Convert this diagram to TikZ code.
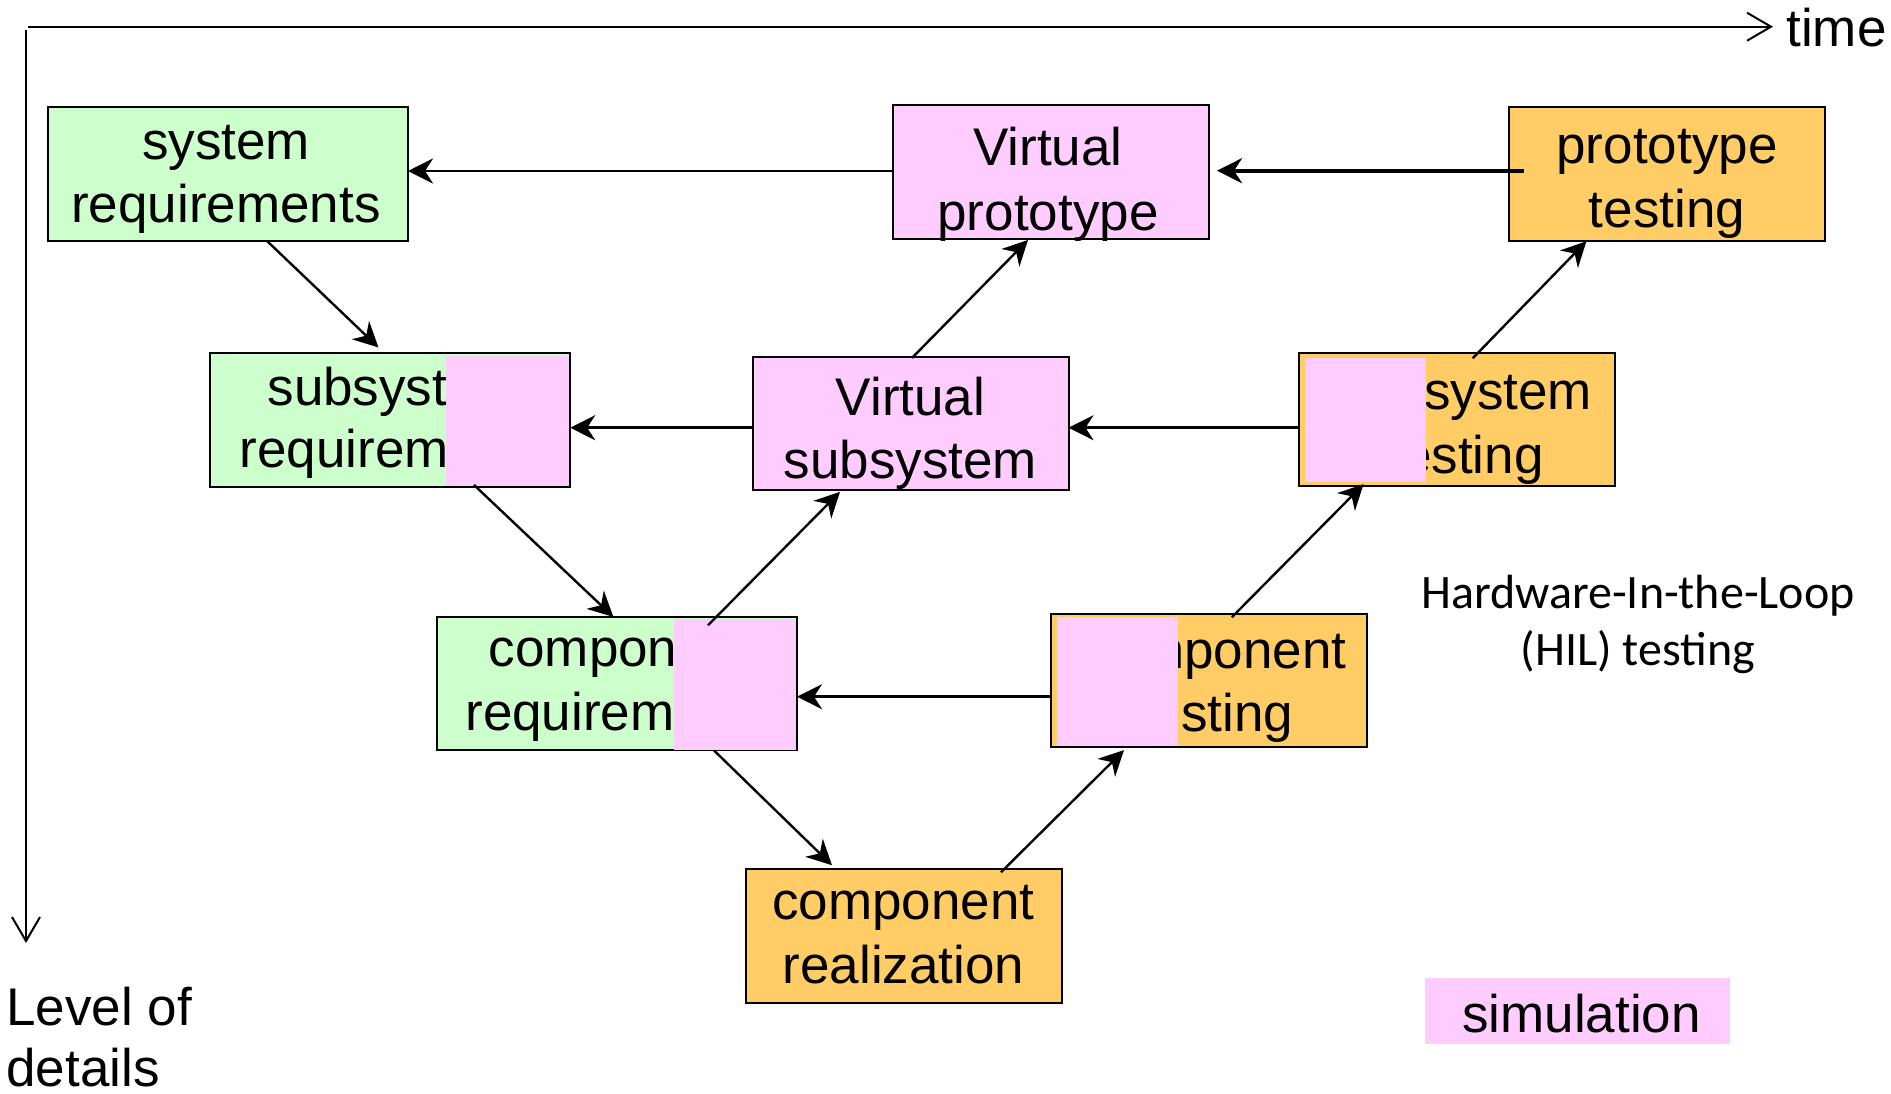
\documentclass[tikz,border=0pt]{standalone}
\usepackage{fontspec}
\setmainfont{Liberation Sans}
\newfontfamily\hilfont{Carlito}
\usetikzlibrary{arrows.meta,calc}

\definecolor{reqgreen}{RGB}{204,255,204}
\definecolor{simpink}{RGB}{255,204,255}
\definecolor{testorange}{RGB}{255,204,102}

\begin{document}
\begin{tikzpicture}[x=0.5pt,y=-0.5pt,
  boxbase/.style={draw=black, line width=1pt, minimum height=66.75pt, inner sep=0pt, outer sep=0pt},
  reqbox/.style={boxbase, fill=reqgreen, minimum width=180pt},
  simbox/.style={boxbase, fill=simpink, minimum width=158pt},
  testbox/.style={boxbase, fill=testorange, minimum width=158pt},
  txt/.style={font=\fontsize{26.5pt}{31.8pt}\selectfont, inner sep=0pt, anchor=base},
  hil/.style={font=\hilfont\fontsize{24pt}{28pt}\selectfont, inner sep=0pt, anchor=base},
  axis/.style={line width=1pt, -{Straight Barb[length=12pt,width=14pt]}},
  conn/.style={line width=1.2pt, -{Stealth[length=12.5pt,width=12.5pt,inset=4pt]}}
]
\useasboundingbox[fill=white] (0,0) rectangle (1891,1093);

% axes
\coordinate (tstart) at (28,26.7);
\coordinate (tend) at (1773,26.7);
\coordinate (lstart) at (26,30);
\coordinate (lend) at (26,943);
\draw[axis] (tstart) -- (tend);
\draw[axis] (lstart) -- (lend);
\node[txt, anchor=base west] (timelbl) at (1786,46.7) {time};
\node[txt, anchor=base west] (lvlA) at (6,1025) {Level of};
\node[txt, anchor=base west] (lvlB) at (6,1086) {details};

% boxes
\node[reqbox]  (sysreq)   at (228,174.2)   {};
\node[simbox]  (vproto)   at (1051,172.2)  {};
\node[testbox] (ptest)    at (1667,173.9)  {};
\node[reqbox]  (subreq)   at (390.2,420.2) {};
\node[simbox]  (vsub)     at (910.5,423.4) {};
\node[testbox] (subtest)  at (1457.4,419.4){};
\node[reqbox]  (compreq)  at (617,683.7)   {};
\node[testbox] (comptest) at (1209.3,680.4){};
\node[testbox] (comprea)  at (903.5,936)   {};

% box texts, placed by baseline below the top edge
\node[txt] (sysreqA)   at ($(sysreq.north)+(-2,51.6)$)   {system};
\node[txt] (sysreqB)   at ($(sysreq.north)+(-2,115)$)    {requirements};
\node[txt] (vprotoA)   at ($(vproto.north)+(-3,59.7)$)   {Virtual};
\node[txt] (vprotoB)   at ($(vproto.north)+(-3,124.7)$)  {prototype};
\node[txt] (ptestA)    at ($(ptest.north)+(0,56)$)       {prototype};
\node[txt] (ptestB)    at ($(ptest.north)+(0,120.7)$)    {testing};
\node[txt] (subreqA)   at ($(subreq.north)+(4,51.7)$)    {subsystem};
\node[txt] (subreqB)   at ($(subreq.north)+(4,114)$)     {requirements};
\node[txt] (vsubA)     at ($(vsub.north)+(0,59.3)$)      {Virtual};
\node[txt] (vsubB)     at ($(vsub.north)+(0,121.6)$)     {subsystem};
\node[txt] (subtestA)  at ($(subtest.north)+(8,57.3)$)   {subsystem};
\node[txt] (subtestB)  at ($(subtest.north)+(8,120.6)$)  {testing};
\node[txt] (compreqA)  at ($(compreq.north)+(3,50)$)     {component};
\node[txt] (compreqB)  at ($(compreq.north)+(3,113.3)$)  {requirements};
\node[txt] (comptestA) at ($(comptest.north)+(6,54.6)$)  {component};
\node[txt] (comptestB) at ($(comptest.north)+(6,118)$)   {testing};
\node[txt] (compreaA)  at ($(comprea.north)+(0,50.7)$)   {component};
\node[txt] (compreaB)  at ($(comprea.north)+(0,114.7)$)  {realization};

% simulation patches laid over the requirement and test boxes
\fill[simpink] (446,356) rectangle (569,486);
\fill[simpink] (673.7,619) rectangle (796,749.7);
\fill[simpink] (1305,357.7) rectangle (1426,482.3);
\fill[simpink] (1056.8,617.3) rectangle (1177.8,746);

% horizontal connectors (right to left)
\coordinate (a1) at ($(vproto.west)+(0,-1.2)$);
\draw[conn, line width=1.3pt] (a1) -- (a1 -| sysreq.east);
\coordinate (b1) at ($(ptest.west)+(15,-3.2)$);
\coordinate (b0) at (b1 -| vproto.east);
\coordinate (b2) at ($(b0)+(8,0)$);
\draw[conn, line width=2pt] (b1) -- (b2);
\coordinate (c1) at ($(vsub.west)+(0,4.3)$);
\draw[conn, line width=1.3pt] (c1) -- (c1 -| subreq.east);
\coordinate (d1) at ($(subtest.west)+(0,8.3)$);
\draw[conn, line width=1.3pt] (d1) -- (d1 -| vsub.east);
\coordinate (e1) at ($(comptest.west)+(0,16.3)$);
\draw[conn, line width=1.3pt] (e1) -- (e1 -| compreq.east);

% diagonal connectors
\draw[conn] ($(sysreq.south)+(39,0)$)     -- ($(subreq.north)+(-11.7,-6)$);
\draw[conn] ($(subreq.south)+(83.8,-2)$)  -- ($(compreq.north)+(-3.6,0)$);
\draw[conn] ($(compreq.south)+(97,0)$)    -- ($(comprea.north)+(-71.5,-4)$);
\draw[conn] ($(comprea.north)+(97.5,3)$)  -- ($(comptest.south)+(-85.3,3)$);
\draw[conn] ($(comptest.north)+(22.5,3.6)$) -- ($(subtest.south)+(-93.8,-2)$);
\draw[conn] ($(subtest.north)+(15.3,5.6)$)  -- ($(ptest.south)+(-80.6,0.6)$);
\draw[conn] ($(compreq.north)+(91,8.3)$)    -- ($(vsub.south)+(-70.5,1.7)$);
\draw[conn] ($(vsub.north)+(1.5,1.3)$)      -- ($(vproto.south)+(-23,1)$);

% HIL note
\node[hil] (hilA) at (1638,608) {Hardware-In-the-Loop};
\node[hil] (hilB) at (1638,665) {(HIL) testing};

% legend
\node[fill=simpink, minimum width=152.6pt, minimum height=33pt, inner sep=0pt] (legend) at (1577.2,1011.3) {};
\node[txt] (legendtxt) at (1581.5,1032.3) {simulation};
\end{tikzpicture}
\end{document}
